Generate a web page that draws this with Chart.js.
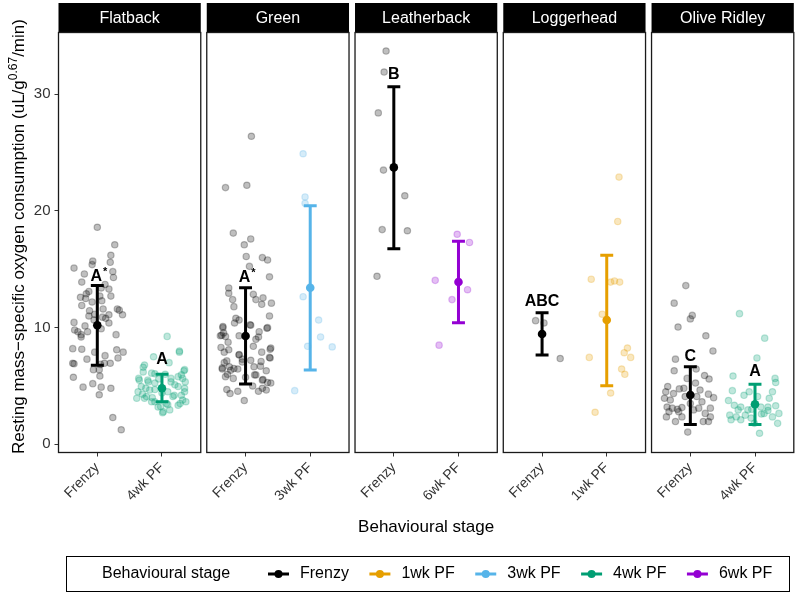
<!DOCTYPE html>
<html>
<head>
<meta charset="utf-8">
<script src="https://cdn.jsdelivr.net/npm/chart.js@4.4.1/dist/chart.umd.min.js"></script>
<style>
  html, body { margin: 0; padding: 0; background: #fff; }
  canvas { display: block; }
</style>
</head>
<body>
<canvas id="chart" width="799" height="594"></canvas>
<script>
// facets and the two stages shown in each
const species = ["Flatback", "Green", "Leatherback", "Loggerhead", "Olive Ridley"];
const stagesBySpecies = [
  ["Frenzy", "4wk PF"],
  ["Frenzy", "3wk PF"],
  ["Frenzy", "6wk PF"],
  ["Frenzy", "1wk PF"],
  ["Frenzy", "4wk PF"]
];
const legendStages = ["Frenzy", "1wk PF", "3wk PF", "4wk PF", "6wk PF"];
const stageColors = ["#000000", "#E69F00", "#56B4E9", "#009E73", "#9400D3"];

// mean and error bar ends, one per facet/stage (same order as stagesBySpecies)
const means = [10.2, 4.8, 9.28, 13.42, 23.73, 13.91, 9.45, 10.65, 4.22, 3.43];
const upper = [13.62, 6.0, 13.42, 20.45, 30.64, 17.4, 11.28, 16.2, 6.65, 5.14];
const lower = [6.77, 3.65, 5.17, 6.37, 16.76, 10.42, 7.65, 5.02, 1.71, 1.71];
const letters = ["A*", "A", "A*", "", "B", "", "ABC", "", "C", "A"];
const letterY = [14.0, 6.9, 13.9, null, 31.3, null, 11.85, null, 7.16, 5.88];

const yTicks = [0, 10, 20, 30];

// individual measurements: [jitter offset, value]
const flatbackFrenzy = [[0.00,18.6],[0.27,17.1],[0.21,16.2],[0.20,15.6],[-0.07,15.7],[-0.36,15.1],[-0.08,15.4],[0.24,14.8],[-0.20,14.6],[0.25,14.3],[-0.24,13.9],[0.12,13.7],[0.18,13.3],[0.06,13.4],[-0.13,13.1],[-0.17,12.9],[-0.26,12.6],[-0.18,12.5],[0.04,12.7],[0.21,12.7],[0.07,12.3],[-0.08,12.2],[-0.24,11.9],[0.09,11.6],[0.31,11.6],[0.34,11.5],[-0.12,11.45],[-0.04,11.15],[0.39,11.1],[0.18,11.1],[-0.13,11.0],[0.08,10.9],[0.13,10.8],[-0.05,10.65],[-0.36,10.45],[0.18,10.4],[-0.19,10.15],[-0.35,9.8],[-0.30,9.65],[-0.15,9.65],[-0.25,9.4],[0.29,9.4],[-0.25,9.2],[0.06,9.9],[-0.38,8.2],[-0.24,8.15],[0.30,8.1],[0.40,7.9],[-0.04,7.9],[0.12,7.6],[0.32,7.4],[-0.16,7.3],[-0.38,6.95],[-0.36,6.9],[0.20,6.95],[0.05,6.85],[0.11,6.95],[0.03,6.4],[-0.06,6.4],[-0.37,5.75],[0.04,5.85],[-0.07,5.2],[-0.22,4.9],[0.06,4.9],[0.21,4.8],[0.03,4.25],[0.24,2.3],[0.37,1.25]];
const flatback4wk = [[0.08,9.25],[0.27,7.9],[0.27,8.0],[-0.13,7.5],[0.11,7.0],[-0.29,6.6],[-0.27,6.8],[0.34,6.3],[0.35,6.4],[-0.29,6.2],[0.30,5.95],[-0.16,6.1],[-0.11,6.05],[0.25,5.8],[-0.36,5.65],[0.14,5.65],[0.32,5.65],[-0.22,5.5],[-0.35,5.5],[-0.11,5.25],[0.14,5.35],[0.36,5.35],[-0.21,5.35],[-0.32,4.95],[0.25,4.95],[0.35,4.8],[-0.19,4.65],[-0.11,4.7],[0.09,4.5],[-0.37,4.5],[0.35,4.5],[-0.39,3.95],[-0.24,4.1],[-0.27,3.95],[0.19,4.2],[0.17,4.1],[0.32,3.8],[0.37,3.65],[-0.11,3.65],[-0.16,3.65],[0.07,3.5],[0.28,3.5],[0.09,3.4],[0.25,3.35],[-0.06,3.2],[-0.02,3.25],[0.12,2.95],[0.01,2.7],[0.02,2.8],[-0.30,4.3],[0.00,4.4],[0.20,5.1],[-0.05,5.6],[0.05,6.0],[-0.25,4.8],[0.30,4.2],[-0.15,4.0]];
const greenFrenzy = [[0.09,26.4],[-0.31,22.0],[0.02,22.2],[-0.19,18.1],[0.08,17.6],[-0.02,17.1],[0.01,16.1],[0.26,16.0],[0.34,15.8],[0.06,15.25],[0.37,14.35],[-0.26,13.4],[-0.26,12.95],[0.12,12.85],[0.27,12.55],[0.16,12.4],[-0.20,12.4],[0.40,12.1],[0.25,12.0],[-0.18,11.8],[0.37,11.0],[-0.17,10.4],[-0.10,10.65],[0.08,10.2],[0.33,9.95],[-0.35,10.0],[-0.34,9.55],[-0.39,9.3],[-0.10,9.3],[0.20,9.2],[-0.27,8.75],[-0.38,8.3],[0.12,8.4],[0.39,8.25],[-0.33,7.9],[-0.10,7.7],[0.25,7.9],[0.38,7.4],[-0.29,7.15],[0.08,7.2],[-0.05,7.05],[-0.36,6.55],[-0.23,6.35],[0.13,6.65],[0.23,6.7],[-0.12,6.45],[-0.31,5.8],[-0.19,5.65],[0.14,5.95],[0.27,5.55],[0.34,5.3],[0.39,5.25],[-0.29,4.7],[-0.24,4.35],[-0.12,4.55],[0.26,4.8],[0.32,4.65],[0.20,4.55],[-0.02,3.75],[0.11,5.0],[-0.35,10.1],[-0.15,10.8],[0.07,10.25],[0.21,9.65],[0.34,10.0],[0.16,9.0],[-0.37,9.35],[-0.31,9.25],[0.38,8.15],[-0.26,8.1],[-0.10,7.65],[-0.05,7.3],[0.24,7.1],[0.37,7.45],[-0.33,7.0],[-0.25,6.65],[-0.36,6.45],[-0.18,6.5],[-0.28,6.0],[0.16,5.95],[0.32,6.3],[0.26,5.5],[0.00,5.75]];
const green3wk = [[-0.11,24.9],[-0.08,21.2],[-0.08,20.65],[-0.11,12.65],[0.13,10.65],[0.16,9.2],[-0.04,8.4],[0.34,8.35],[-0.24,4.6]];
const leatherbackFrenzy = [[-0.12,33.7],[-0.15,31.9],[-0.24,28.4],[-0.16,23.5],[0.17,21.3],[-0.18,18.4],[0.21,18.3],[-0.26,14.4]];
const leatherback6wk = [[-0.02,18.0],[0.17,17.3],[-0.36,14.05],[0.14,13.25],[-0.10,12.4],[-0.30,8.5]];
const loggerheadFrenzy = [[-0.10,10.6],[0.03,10.4],[0.28,7.35]];
const loggerhead1wk = [[0.19,22.9],[0.17,19.1],[-0.24,14.15],[0.06,13.9],[0.12,14.0],[0.20,13.9],[-0.07,11.15],[0.32,8.25],[0.27,7.85],[0.37,7.45],[-0.27,7.45],[0.23,6.45],[0.28,6.0],[0.06,4.4],[-0.18,2.75]];
const oliveFrenzy = [[-0.07,13.6],[-0.25,12.1],[0.03,11.05],[0.00,10.75],[-0.19,10.05],[0.24,9.3],[0.35,8.0],[-0.23,7.3],[-0.25,6.3],[0.09,6.45],[0.22,5.9],[0.29,5.6],[-0.35,4.95],[-0.17,4.75],[-0.10,4.8],[-0.38,4.5],[-0.26,4.35],[0.28,4.3],[0.36,4.0],[-0.40,3.95],[0.10,4.1],[0.18,3.65],[-0.36,3.2],[-0.28,3.1],[-0.20,3.0],[-0.13,3.15],[0.05,2.95],[0.13,3.1],[0.31,3.1],[-0.37,2.35],[0.31,2.35],[-0.23,1.95],[0.20,1.95],[0.28,1.95],[-0.04,1.05],[-0.08,4.1],[0.00,3.5],[-0.18,2.8],[-0.31,3.8],[0.15,4.65],[0.23,2.65],[-0.13,2.35],[0.08,5.25],[-0.05,5.65],[-0.33,2.8]];
const olive4wk = [[-0.24,11.2],[0.15,9.1],[0.03,7.4],[-0.34,5.85],[0.31,5.65],[0.32,5.3],[-0.35,4.6],[-0.17,4.2],[0.22,3.95],[-0.41,3.75],[-0.09,4.5],[-0.22,3.2],[0.09,3.2],[0.32,3.3],[-0.39,2.5],[-0.29,2.35],[-0.22,2.1],[-0.06,2.25],[0.14,2.65],[0.27,2.35],[0.37,2.65],[0.35,1.8],[0.07,0.95],[-0.11,2.95],[0.20,3.2],[-0.26,2.95],[0.04,4.1],[-0.32,3.35],[0.27,4.5],[-0.37,2.1],[-0.01,1.8],[0.10,2.6],[-0.15,2.5],[0.20,2.9],[-0.05,3.0]];

const groupPoints = [flatbackFrenzy, flatback4wk, greenFrenzy, green3wk, leatherbackFrenzy,
  leatherback6wk, loggerheadFrenzy, loggerhead1wk, oliveFrenzy, olive4wk];

// ---- layout of facets on one linear x scale ----
const PANEL_W = 2.2;                 // 2 categories, ggplot style expansion
const GAP = 6 / 142.3 * PANEL_W;     // white space between panels
const STEP = PANEL_W + GAP;
const X_MAX = (species.length - 1) * STEP + PANEL_W;
const FONT = '"Liberation Sans", Arial, sans-serif';

const colorOf = s => stageColors[legendStages.indexOf(s)];
function hexA(hex, a) {
  const n = parseInt(hex.slice(1), 16);
  return `rgba(${n >> 16},${(n >> 8) & 255},${n & 255},${a})`;
}

const groups = [];
species.forEach((sp, i) => {
  stagesBySpecies[i].forEach((st, j) => {
    groups.push({ stage: st, pos: i * STEP + 0.6 + j });
  });
});

const tickPositions = groups.map(g => g.pos);
const tickLabels = groups.map(g => g.stage);

const datasets = groups.map((g, k) => ({
  data: groupPoints[k].map(p => ({ x: g.pos + p[0], y: p[1] })),
  pointRadius: 3.2,
  pointBackgroundColor: hexA(colorOf(g.stage), 0.25),
  pointBorderColor: hexA(colorOf(g.stage), 0.25),
  pointBorderWidth: 1.2,
  showLine: false
}));
datasets.push({
  data: groups.map((g, k) => ({ x: g.pos, y: means[k] })),
  pointRadius: 4.3,
  pointBackgroundColor: groups.map(g => colorOf(g.stage)),
  pointBorderColor: groups.map(g => colorOf(g.stage)),
  pointBorderWidth: 0,
  showLine: false
});

const facetPlugin = {
  id: 'facets',
  beforeDraw(chart) {
    const c = chart.ctx;
    c.save();
    c.fillStyle = '#fff';
    c.fillRect(0, 0, chart.width, chart.height);
    c.restore();
  },
  afterDatasetDraw(chart, args) {
    if (args.index !== groups.length - 1) return;
    const c = chart.ctx, xs = chart.scales.x, ys = chart.scales.y;
    c.save();
    c.lineWidth = 3;
    groups.forEach((g, k) => {
      const x = xs.getPixelForValue(g.pos);
      const cl = xs.getPixelForValue(g.pos - 0.1), cr = xs.getPixelForValue(g.pos + 0.1);
      const yt = ys.getPixelForValue(upper[k]), yb = ys.getPixelForValue(lower[k]);
      c.strokeStyle = colorOf(g.stage);
      c.beginPath();
      c.moveTo(x, yt); c.lineTo(x, yb);
      c.moveTo(cl, yt); c.lineTo(cr, yt);
      c.moveTo(cl, yb); c.lineTo(cr, yb);
      c.stroke();
    });
    c.restore();
  },
  afterDraw(chart) {
    const c = chart.ctx, xs = chart.scales.x, ys = chart.scales.y, a = chart.chartArea;
    c.save();
    // panels and strips
    species.forEach((sp, i) => {
      const l = xs.getPixelForValue(i * STEP), r = xs.getPixelForValue(i * STEP + PANEL_W);
      c.fillStyle = '#000';
      c.fillRect(l, 3, r - l, a.top - 3);
      c.strokeStyle = '#1a1a1a';
      c.lineWidth = 1.3;
      c.strokeRect(l, a.top, r - l, a.bottom - a.top);
      c.fillStyle = '#fff';
      c.font = '16px ' + FONT;
      c.textAlign = 'center';
      c.textBaseline = 'middle';
      c.fillText(sp, (l + r) / 2, (3 + a.top) / 2 + 1);
    });
    // group letters
    c.fillStyle = '#000';
    c.textBaseline = 'alphabetic';
    groups.forEach((g, k) => {
      if (!letters[k]) return;
      const x = xs.getPixelForValue(g.pos), y = ys.getPixelForValue(letterY[k]);
      const star = letters[k].endsWith('*');
      const main = star ? letters[k].slice(0, -1) : letters[k];
      c.font = 'bold 16px ' + FONT;
      const w = c.measureText(main).width;
      c.textAlign = 'left';
      c.fillText(main, x - w / 2 - (star ? 1 : 0), y);
      if (star) {
        c.font = 'bold 11px ' + FONT;
        c.fillText('*', x + w / 2, y - 6);
      }
    });
    // y axis title with superscript
    c.fillStyle = '#000';
    c.translate(24, (a.top + a.bottom) / 2 - 6);
    c.rotate(-Math.PI / 2);
    const p1 = 'Resting mass\u2212specific oxygen consumption (uL/g', sup = '0.67', p2 = '/min)';
    c.font = '17px ' + FONT;
    const w1 = c.measureText(p1).width, w3 = c.measureText(p2).width;
    c.font = '12px ' + FONT;
    const w2 = c.measureText(sup).width;
    let sx = -(w1 + w2 + w3) / 2;
    c.textAlign = 'left';
    c.textBaseline = 'alphabetic';
    c.font = '17px ' + FONT;
    c.fillText(p1, sx, 0);
    c.font = '12px ' + FONT;
    c.fillText(sup, sx + w1, -7);
    c.font = '17px ' + FONT;
    c.fillText(p2, sx + w1 + w2, 0);
    c.setTransform(1, 0, 0, 1, 0, 0);
    // x axis title
    c.textAlign = 'center';
    c.textBaseline = 'middle';
    c.font = '17px ' + FONT;
    c.fillText('Behavioural stage', (a.left + a.right) / 2, 527);
    // legend
    c.strokeStyle = '#000';
    c.lineWidth = 1;
    c.strokeRect(66.5, 556.5, 723, 35);
    const ly = 574;
    c.font = '16px ' + FONT;
    c.textAlign = 'left';
    c.fillText('Behavioural stage', 102, ly);
    let lx = 268;
    legendStages.forEach((s, i) => {
      c.strokeStyle = stageColors[i];
      c.fillStyle = stageColors[i];
      c.lineWidth = 3;
      c.beginPath(); c.moveTo(lx, ly); c.lineTo(lx + 21, ly); c.stroke();
      c.beginPath(); c.arc(lx + 10.5, ly, 4, 0, Math.PI * 2); c.fill();
      c.fillStyle = '#000';
      c.fillText(s, lx + 32, ly);
      lx += 32 + c.measureText(s).width + 20.5;
    });
    c.restore();
  }
};

new Chart(document.getElementById('chart').getContext('2d'), {
  type: 'scatter',
  data: { datasets },
  options: {
    responsive: false,
    animation: false,
    devicePixelRatio: 1,
    layout: { padding: { top: 32.5, right: 4, left: 0, bottom: 0 } },
    plugins: { legend: { display: false }, tooltip: { enabled: false } },
    scales: {
      x: {
        type: 'linear', min: 0, max: X_MAX,
        afterBuildTicks: s => { s.ticks = tickPositions.map(v => ({ value: v })); },
        afterFit: s => { s.height = 594 - 452.5; },
        ticks: {
          autoSkip: false, minRotation: 45, maxRotation: 45, padding: 3,
          callback: (v, i) => tickLabels[i],
          font: { family: FONT, size: 14 }, color: '#333'
        },
        grid: { drawOnChartArea: false, drawTicks: true, tickLength: 4, color: '#333', lineWidth: 1 },
        border: { display: false }
      },
      y: {
        min: -0.7, max: 35.29,
        afterBuildTicks: s => { s.ticks = yTicks.map(v => ({ value: v })); },
        afterFit: s => { s.width = 58.5; },
        ticks: { padding: 4, font: { family: FONT, size: 15 }, color: '#333' },
        grid: { drawOnChartArea: false, drawTicks: true, tickLength: 4, color: '#333', lineWidth: 1 },
        border: { display: false }
      }
    }
  },
  plugins: [facetPlugin]
});
</script>
</body>
</html>
